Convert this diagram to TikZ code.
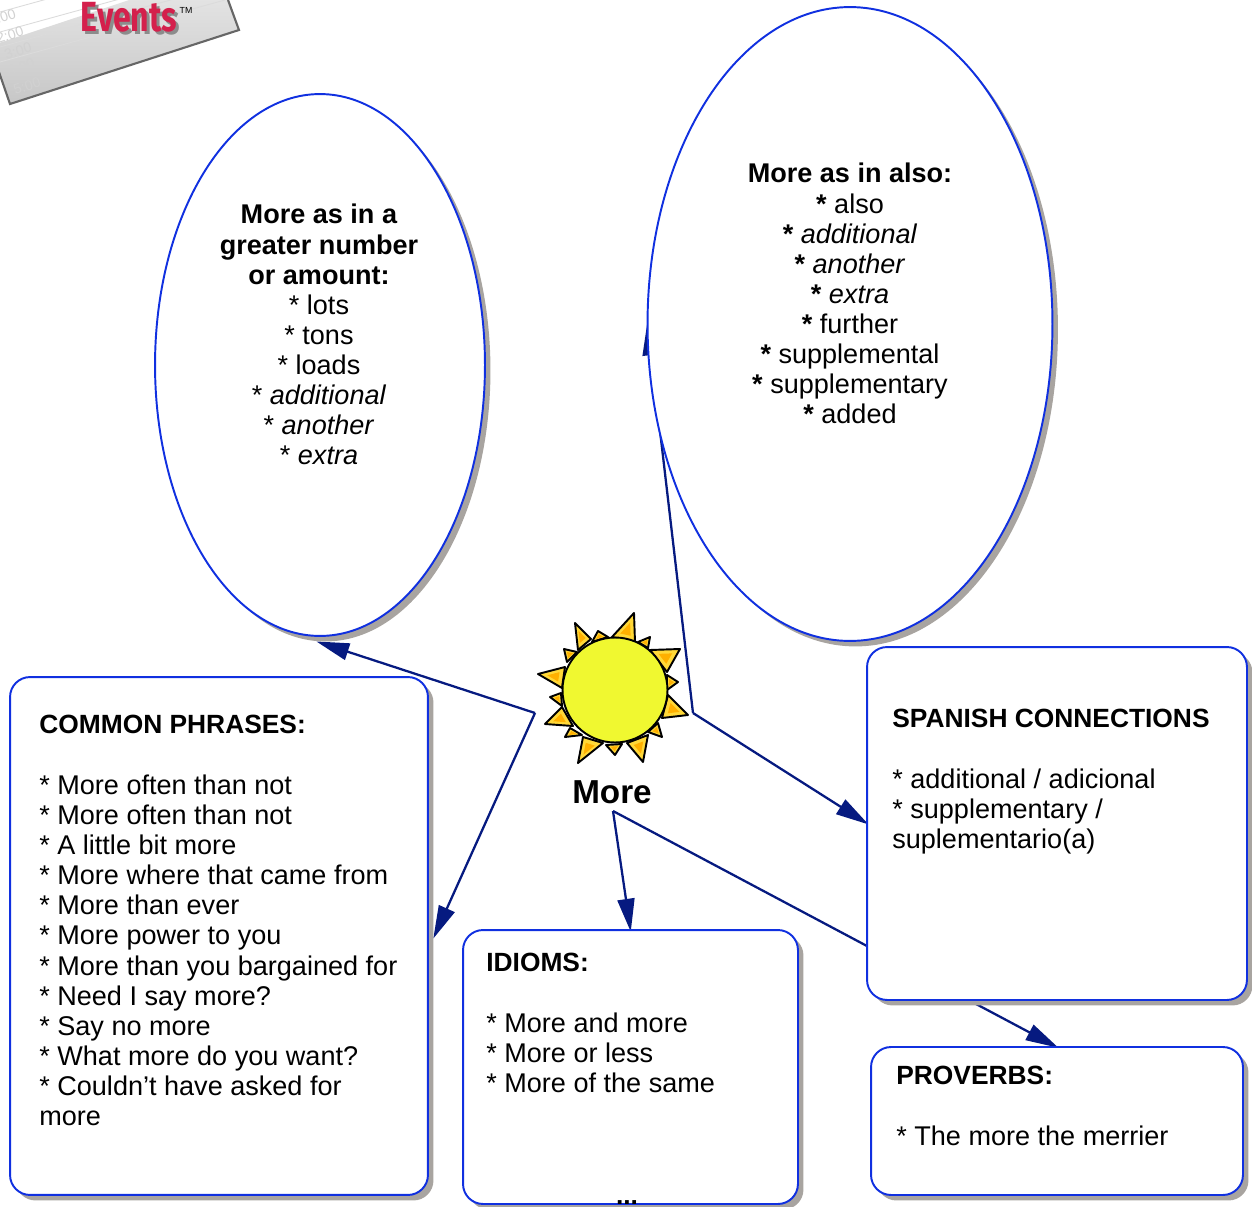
\documentclass[tikz,border=0pt]{standalone}
\usepackage{fontspec}
\setmainfont{Liberation Sans}
\newfontfamily\logofont{Fira Sans}
\usetikzlibrary{shapes.geometric,shadows,arrows.meta,calc,backgrounds}
\definecolor{edgeblue}{HTML}{1030E0}
\definecolor{linknavy}{HTML}{061A80}
\definecolor{shadowgray}{HTML}{A8A4A0}
\definecolor{sunyellow}{HTML}{F0F830}
\definecolor{raygold}{HTML}{FFD838}
\definecolor{rayorange}{HTML}{FFB000}
\definecolor{logored}{HTML}{D4204C}
\newcommand{\boxhead}[1]{{\bfseries\fontsize{15}{17.2}\selectfont #1}}
\tikzset{
    boxshadow/.style={drop shadow={shadow xshift=0.11cm,shadow yshift=-0.11cm,fill=shadowgray,opacity=1}},
    bubble/.style={ellipse,draw=edgeblue,line width=1.1pt,fill=white,inner sep=0pt,outer sep=0pt,boxshadow},
    notebox/.style={rectangle,rounded corners=0.4cm,draw=edgeblue,line width=1.1pt,fill=white,inner sep=0pt,outer sep=0pt,boxshadow},
    conn/.style={draw=linknavy,line width=1.3pt,shorten >=-1pt,-{Triangle[length=0.66cm,width=0.34cm]}},
    txt/.style={inner sep=0pt,font=\fontsize{15.4}{17.1}\selectfont},
    boxtxt/.style={inner sep=0pt,align=left,anchor=north west,font=\fontsize{15.4}{17.17}\selectfont},
    logotime/.style={inner sep=0pt,rotate=18,text=black!18,font=\fontsize{8}{8}\selectfont}
}
\begin{document}
\begin{tikzpicture}[x=0.02cm,y=-0.02cm]
    \useasboundingbox (0,0) rectangle (1252,1207);

    % Logo in the corner
    \begin{scope}
        \clip (0,0) rectangle (1252,1207);
        \shade[top color=black!8,bottom color=black!22] (-10,46) -- (220,-30) -- (239,30) -- (10,104) -- cycle;
        \draw[black!60,line width=1.2pt] (-10,46) -- (10,104) -- (239,30) -- (228,0);
        \foreach \ypos in {12,32,47,62} {
            \draw[black!14,line width=0.5pt] (0,\ypos) -- (225,\ypos-62);
        }
        \node[logotime] (t1) at (6,16) {:00};
        \node[logotime] (t2) at (10,35) {2:00};
        \node[logotime] (t3) at (18,51) {3:00};
        \node[logotime] (t4) at (21,67) {4:00};
        \node[logotime] (t5) at (27,86) {5:00};
        \node[inner sep=0pt,xscale=0.76,text=black!45,font=\logofont\bfseries\fontsize{24}{24}\selectfont] (evshadow) at (132,20) {Events};
        \node[inner sep=0pt,xscale=0.76,text=logored,font=\logofont\bfseries\fontsize{24}{24}\selectfont] (events) at (129,17) {Events};
        \node[inner sep=0pt,font=\fontsize{5}{5}\selectfont] (tm) at (186,10) {TM};
    \end{scope}

    % Ellipses
    \node[bubble,minimum width=6.6cm,minimum height=10.84cm] (amount) at (320,365) {};
    \node[bubble,minimum width=8.1cm,minimum height=12.68cm] (also) at (850,324) {};
    \node[txt,align=center,anchor=north] (amounttxt) at (319,204) {\textbf{More as in a}\\\textbf{greater number}\\\textbf{or amount:}\\* lots\\* tons\\* loads\\* \textit{additional}\\* \textit{another}\\* \textit{extra}};
    \node[txt,align=center,anchor=north] (alsotxt) at (850,163) {\textbf{More as in also:}\\\textbf{*} also\\\textbf{*} \textit{additional}\\\textbf{*} \textit{another}\\\textbf{*} \textit{extra}\\\textbf{*} further\\\textbf{*} supplemental\\\textbf{*} supplementary\\\textbf{*} added};

    % Boxes
    \node[notebox,minimum width=8.36cm,minimum height=10.36cm] (common) at (219,936) {};
    \node[notebox,minimum width=6.7cm,minimum height=5.48cm] (idioms) at (630.5,1067) {};
    \node[notebox,minimum width=7.6cm,minimum height=7.06cm] (spanish) at (1057,823.5) {};
    \node[notebox,minimum width=7.44cm,minimum height=2.96cm] (proverbs) at (1057,1121) {};
    \node[boxtxt] (commontxt) at (39,715) {\boxhead{COMMON PHRASES:}\\[17.17pt]* More often than not\\* More often than not\\* A little bit more\\* More where that came from\\* More than ever\\* More power to you\\* More than you bargained for\\* Need I say more?\\* Say no more\\* What more do you want?\\* Couldn't have asked for\\more};
    \node[boxtxt] (idiomstxt) at (486,953) {\boxhead{IDIOMS:}\\[17.17pt]* More and more\\* More or less\\* More of the same};
    \node[boxtxt] (spanishtxt) at (892,709) {\boxhead{SPANISH CONNECTIONS}\\[17.17pt]* additional / adicional\\* supplementary /\\suplementario(a)};
    \node[boxtxt] (proverbstxt) at (896,1066) {\boxhead{PROVERBS:}\\[17.17pt]* The more the merrier};
    \node[txt,anchor=south,font=\bfseries\fontsize{15}{17.1}\selectfont] (dots) at (627,1205) {...};

    % Sun
    \foreach \ax/\ay/\bx/\by/\cx/\cy in {612/637/634/613/635/642, 592/642/598/631/608/637, 578/650/575/623/591/639, 567/662/564/649/577/652, 562/688/538/674/565/667, 562/706/550/697/561/693, 562/707/545/724/573/726, 570/728/565/737/582/735, 583/737/578/763/603/743, 606/745/615/755/622/744, 627/743/643/762/648/735, 648/732/662/737/658/723, 662/718/688/715/668/695, 667/690/678/682/667/675, 667/672/680/649/650/650, 638/642/650/637/648/648} {
        \coordinate (a) at (\ax,\ay);
        \coordinate (b) at (\bx,\by);
        \coordinate (c) at (\cx,\cy);
        \coordinate (g) at (barycentric cs:a=1,b=1,c=1);
        \draw[black,line width=1.1pt,fill=raygold,line join=round] (a) -- (b) -- (c) -- cycle;
        \fill[rayorange] ($(g)!.45!(a)$) -- ($(g)!.45!(b)$) -- ($(g)!.45!(c)$) -- cycle;
    }
    \node[circle,draw=black,line width=1.1pt,fill=sunyellow,minimum size=2.1cm,inner sep=0pt] (sun) at (615,690) {};
    \node[inner sep=0pt,font=\bfseries\fontsize{18.9}{20}\selectfont] (more) at (612,792) {More};

    % Connectors, under the nodes
    \coordinate (leftknee) at (535,713);
    \coordinate (rightknee) at (693,713);
    \coordinate (lowknee) at (613,811);
    \begin{pgfonlayer}{background}
        \draw[conn] (leftknee) -- (318,642);
        \draw[conn] (leftknee) -- (434,937);
        \draw[conn] (rightknee) -- (also.west);
        \draw[conn] (rightknee) -- (spanish.west);
        \draw[conn] (lowknee) -- (idioms.north);
        \draw[conn] (lowknee) -- (proverbs.north);
    \end{pgfonlayer}
\end{tikzpicture}
\end{document}
